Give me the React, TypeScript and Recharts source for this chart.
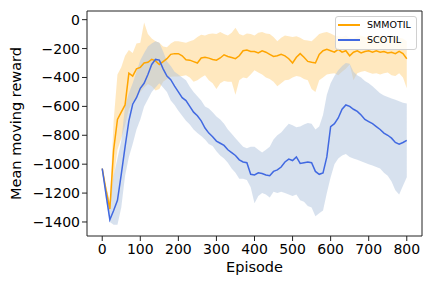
import React from 'react';
import {
  Area,
  ComposedChart,
  Line,
  ReferenceArea,
  XAxis,
  YAxis,
} from 'recharts';

const episodes = Array.from({ length: 81 }, (_, i) => i * 10);

const smmotilMean = [
  -1030, -1180, -1310, -900, -690, -640, -590, -370, -390, -340,
  -330, -300, -295, -275, -285, -310, -290, -270, -240, -235,
  -235, -250, -278, -280, -290, -300, -265, -260, -266, -275,
  -280, -265, -243, -255, -262, -270, -250, -215, -210, -220,
  -220, -230, -215, -225, -240, -255, -250, -240, -250, -270,
  -300, -260, -235, -260, -289, -295, -300, -240, -215, -205,
  -215, -225, -205, -225, -215, -250, -225, -215, -230, -220,
  -215, -225, -215, -225, -220, -230, -225, -235, -220, -235,
  -270,
];
const smmotilHigh = [
  -1030, -1150, -1260, -700, -380, -330, -250, -210, -230, -165,
  -160, -20, -100, -130, -150, -160, -185, -190, -165, -150,
  -150, -155, -160, -150, -140, -120, -105, -110, -100, -95,
  -100, -85, -100, -110, -90, -56, -100, -110, -95, -100,
  -110, -90, -85, -95, -100, -120, -150, -125, -110, -115,
  -120, -115, -125, -140, -145, -150, -125, -100, -90, -85,
  -95, -110, -115, -120, -110, -125, -130, -115, -110, -120,
  -125, -115, -120, -110, -125, -120, -130, -115, -125, -130,
  -150,
];
const smmotilLow = [
  -1030, -1200, -1340, -1100, -900, -820, -730, -620, -570, -540,
  -500, -470, -445, -460, -490, -480, -430, -410, -395, -394,
  -394, -390, -385, -400, -430, -420, -400, -385, -420, -440,
  -480, -440, -425, -430, -430, -520, -420, -400, -405, -380,
  -350, -365, -380, -400, -410, -430, -460, -440, -420, -415,
  -400, -390, -395, -410, -420, -480, -500, -420, -400, -380,
  -375, -370, -385, -360, -340, -310, -420, -370, -360, -355,
  -365, -375, -370, -380, -370, -365, -385, -390, -370, -400,
  -475,
];

const scotilMean = [
  -1030, -1210, -1384, -1320, -1250, -1070, -880, -700, -585, -540,
  -475, -440, -380, -310, -275, -280, -340, -390, -415, -460,
  -500, -540, -560, -600, -640, -665, -700, -750, -785, -810,
  -840, -855, -870, -900, -920, -940, -970, -985, -990, -1070,
  -1075, -1060, -1065, -1075, -1080, -1050, -1040, -1020, -985, -965,
  -975, -950, -995, -990, -985, -990, -1050, -1070, -1060, -950,
  -740, -720, -680, -620, -590, -600, -620, -635, -660, -690,
  -705, -720, -740, -760, -785, -800, -820, -850, -862, -850,
  -835,
];
const scotilHigh = [
  -1030, -1160, -1260, -1080, -960, -840, -600, -510, -440, -360,
  -280, -230, -185, -165, -150, -160, -220, -290, -320, -360,
  -380, -400, -420, -465, -500, -530, -560, -600, -615, -640,
  -670, -690, -720, -760, -790, -820, -850, -880, -890, -880,
  -880, -900, -920, -900, -880, -830, -800, -780, -750, -720,
  -730, -745, -740, -725, -715, -720, -760, -740, -660, -520,
  -440, -390, -350, -320, -300, -305, -360, -385, -400, -425,
  -440, -460, -485, -510, -525, -535, -545, -555, -565, -575,
  -580,
];
const scotilLow = [
  -1030, -1250, -1400, -1420, -1420, -1300, -1080, -950, -860, -760,
  -690, -600, -550, -500, -470, -440, -470, -500, -560, -590,
  -630, -665, -700, -725, -760, -785, -805, -830, -860, -875,
  -910, -940, -960, -990, -1030, -1060, -1100, -1100, -1110, -1160,
  -1270, -1220, -1200, -1210, -1230, -1190, -1200, -1190, -1200, -1210,
  -1220, -1210, -1250, -1260, -1290, -1300, -1360, -1340, -1320, -1200,
  -1090, -1000, -960, -940, -930, -950, -960, -970, -980, -990,
  -1000, -1010, -1020, -1030, -1060, -1080, -1120, -1180, -1210, -1150,
  -1090,
];

const xTicks = [0, 100, 200, 300, 400, 500, 600, 700, 800];
const yTicks = [0, -200, -400, -600, -800, -1000, -1200, -1400];

const ORANGE = '#FFA500';
const BLUE = '#4169E1';

const data = episodes.map((ep, i) => ({
  ep,
  smMean: smmotilMean[i],
  smBand: [smmotilLow[i], smmotilHigh[i]],
  scMean: scotilMean[i],
  scBand: [scotilLow[i], scotilHigh[i]],
}));

const fmt = (v: number) => (v < 0 ? `\u2212${Math.abs(v)}` : `${v}`);

const tickStyle = { fill: '#000', fontSize: 14 };

export default function App() {
  return (
    <div
      style={{
        position: 'absolute',
        left: 0,
        top: 0,
        width: 432,
        height: 288,
        background: '#fff',
        fontFamily: 'DejaVu Sans',
      }}
    >
      <ComposedChart width={432} height={288} data={data} margin={{ top: 11, right: 10, bottom: 0, left: 0 }}>
        <XAxis
          dataKey="ep"
          type="number"
          domain={[-40, 840]}
          ticks={xTicks}
          tickFormatter={fmt}
          tick={tickStyle}
          tickLine={{ stroke: '#222' }}
          tickSize={5}
          tickMargin={3}
          axisLine={false}
          height={52}
          allowDataOverflow
          label={{ value: 'Episode', position: 'insideBottom', offset: 16, fill: '#000', fontSize: 14.5 }}
        />
        <YAxis
          type="number"
          domain={[-1497, 60]}
          ticks={yTicks}
          tickFormatter={fmt}
          tick={tickStyle}
          tickLine={{ stroke: '#222' }}
          tickSize={5}
          axisLine={false}
          width={87}
          allowDataOverflow
          label={{
            value: 'Mean moving reward',
            angle: -90,
            position: 'insideLeft',
            offset: 16,
            fill: '#000',
            fontSize: 14.5,
            style: { textAnchor: 'middle' },
          }}
        />
        <Area
          dataKey="smBand"
          type="linear"
          stroke="none"
          fill={ORANGE}
          fillOpacity={0.25}
          isAnimationActive={false}
        />
        <Area
          dataKey="scBand"
          type="linear"
          stroke="none"
          fill="#B0C4DE"
          fillOpacity={0.5}
          isAnimationActive={false}
        />
        <Line dataKey="smMean" type="linear" stroke={ORANGE} strokeWidth={1.5} dot={false} isAnimationActive={false} />
        <Line dataKey="scMean" type="linear" stroke={BLUE} strokeWidth={1.5} dot={false} isAnimationActive={false} />
        <ReferenceArea x1={-40} x2={840} y1={-1497} y2={60} fill="none" stroke="#222" strokeWidth={1} />
      </ComposedChart>
      <div
        style={{
          position: 'absolute',
          left: 335,
          top: 16,
          width: 80,
          height: 32,
          border: '1px solid #d0d0d0',
          borderRadius: 3,
          background: 'rgba(255,255,255,0.8)',
          fontSize: 9.5,
          color: '#000',
        }}
      >
        {[
          { name: 'SMMOTIL', color: ORANGE, top: 8 },
          { name: 'SCOTIL', color: BLUE, top: 23 },
        ].map((s) => (
          <div key={s.name}>
            <div
              style={{
                position: 'absolute',
                left: 2,
                top: s.top - 1,
                width: 22,
                height: 1.5,
                background: s.color,
              }}
            />
            <div style={{ position: 'absolute', left: 31, top: s.top - 7, lineHeight: '13px' }}>{s.name}</div>
          </div>
        ))}
      </div>
    </div>
  );
}
